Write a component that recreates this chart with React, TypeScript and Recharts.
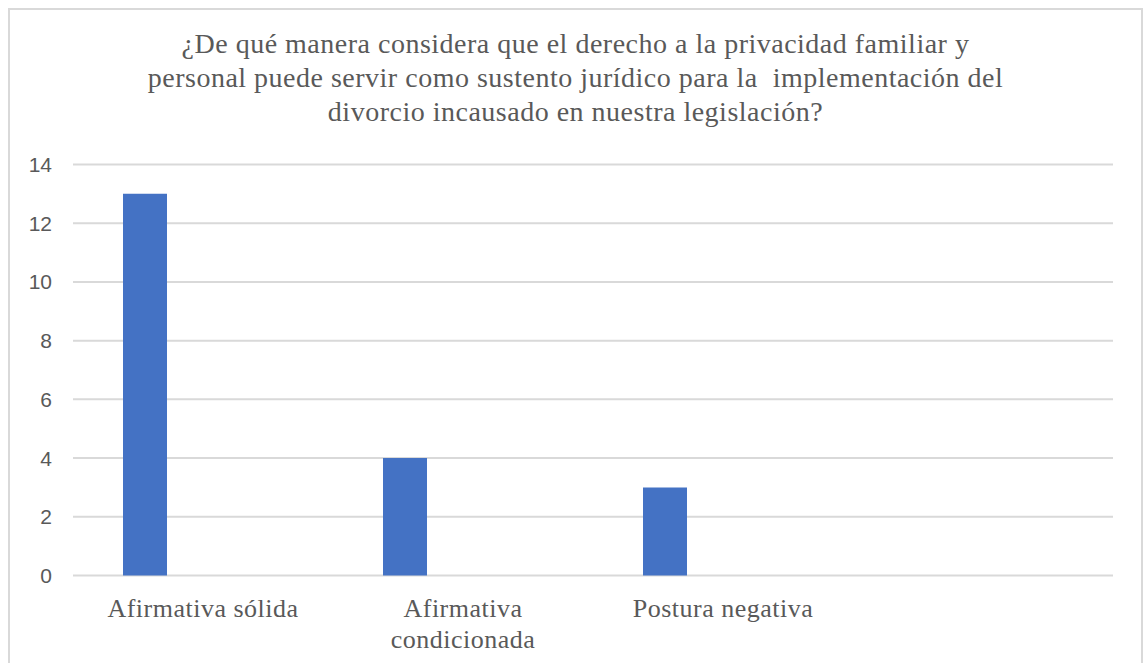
import React from "react";
import { BarChart, Bar, XAxis, YAxis, CartesianGrid } from "recharts";

const titleLines = [
  "¿De qué manera considera que el derecho a la privacidad familiar y",
  "personal puede servir como sustento jurídico para la  implementación del",
  "divorcio incausado en nuestra legislación?",
];
const categories = ["Afirmativa sólida", "Afirmativa condicionada", "Postura negativa", ""];
const serie1: (number | null)[] = [13, 4, 3, null];
const serie2: (number | null)[] = [null, null, null, null];
const serie3: (number | null)[] = [null, null, null, null];
const yTicks = [0, 2, 4, 6, 8, 10, 12, 14];

const data = categories.map((c, i) => ({
  name: c,
  s1: serie1[i],
  s2: serie2[i],
  s3: serie3[i],
}));

const serif = "Liberation Serif";
const sans = "Liberation Sans";
const LABEL_SIZE = 26;
const LABEL_MAX = 230;

let ctx: CanvasRenderingContext2D | null = null;
function measure(s: string): number {
  if (!ctx && typeof document !== "undefined") {
    ctx = document.createElement("canvas").getContext("2d");
  }
  if (!ctx) return s.length * LABEL_SIZE * 0.45;
  ctx.font = `${LABEL_SIZE}px "${serif}"`;
  return ctx.measureText(s).width + s.length * 0.5;
}

function wrap(label: string): string[] {
  const words = label.split(" ");
  const lines: string[] = [];
  let cur = "";
  for (const w of words) {
    const next = cur ? cur + " " + w : w;
    if (cur && measure(next) > LABEL_MAX) {
      lines.push(cur);
      cur = w;
    } else {
      cur = next;
    }
  }
  if (cur) lines.push(cur);
  return lines;
}

const XTick = (props: any) => {
  const { x, y, payload } = props;
  if (!payload || !payload.value) return null;
  const lines = wrap(String(payload.value));
  return (
    <text
      x={x}
      y={y + 41}
      textAnchor="middle"
      fill="#595959"
      fontSize={LABEL_SIZE}
      fontFamily={serif}
      style={{ letterSpacing: "0.5px" }}
    >
      {lines.map((l, i) => (
        <tspan key={i} x={x} dy={i === 0 ? 0 : 31}>
          {l}
        </tspan>
      ))}
    </text>
  );
};

export default function App() {
  return (
    <div
      style={{
        position: "absolute",
        left: 8,
        top: 8,
        width: 1131,
        height: 653,
        borderTop: "2px solid #d9d9d9",
        borderLeft: "2px solid #d9d9d9",
        borderRight: "2px solid #d9d9d9",
        background: "#fff",
      }}
    >
      <div
        style={{
          position: "absolute",
          left: 0,
          top: 17,
          width: 1131,
          textAlign: "center",
          fontFamily: serif,
          fontSize: 28,
          letterSpacing: "0.5px",
          lineHeight: "34px",
          color: "#595959",
          whiteSpace: "pre",
        }}
      >
        {titleLines.map((l, i) => (
          <div key={i}>{l}</div>
        ))}
      </div>
      <BarChart
        width={1131}
        height={653}
        data={data}
        margin={{ top: 154.5, right: 28, left: 0, bottom: 27.5 }}
        barSize={44}
        barGap={14}
      >
        <CartesianGrid vertical={false} stroke="#d9d9d9" strokeWidth={2} />
        <XAxis
          dataKey="name"
          axisLine={false}
          tickLine={false}
          tickSize={0}
          tickMargin={0}
          height={60}
          interval={0}
          tick={<XTick />}
        />
        <YAxis
          width={63}
          domain={[0, 14]}
          ticks={yTicks}
          axisLine={false}
          tickLine={false}
          tickSize={0}
          tickMargin={21}
          interval={0}
          tick={{ fill: "#595959", fontSize: 21, fontFamily: sans }}
        />
        <Bar dataKey="s1" fill="#4472c4" isAnimationActive={false} />
        <Bar dataKey="s2" fill="#ed7d31" isAnimationActive={false} />
        <Bar dataKey="s3" fill="#a5a5a5" isAnimationActive={false} />
      </BarChart>
    </div>
  );
}
